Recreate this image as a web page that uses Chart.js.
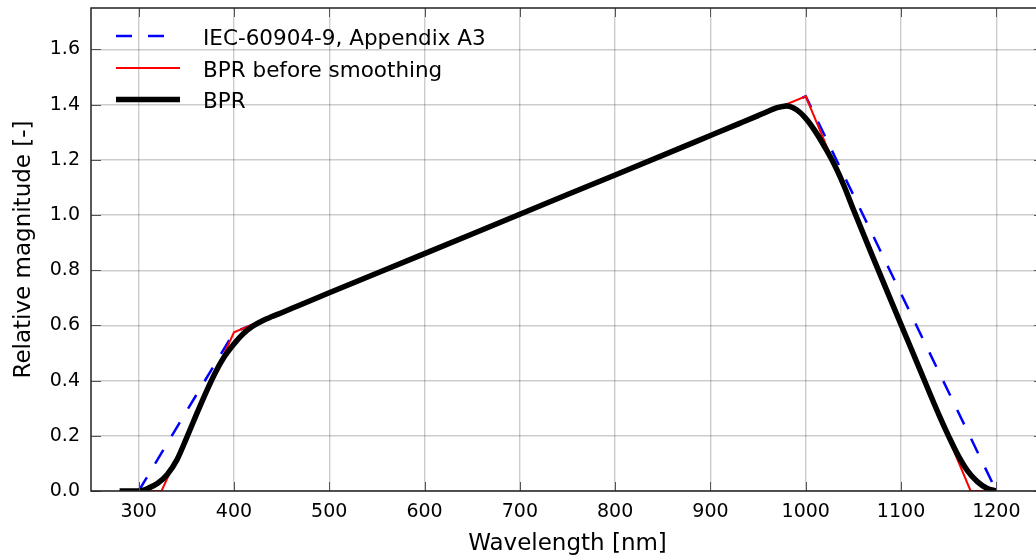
<!DOCTYPE html>
<html>
<head>
<meta charset="utf-8">
<script src="https://cdn.jsdelivr.net/npm/chart.js@4/dist/chart.umd.min.js"></script>
<style>
	html, body { margin: 0; padding: 0; overflow: hidden; background: #fff; }
	#wrap { width: 1050px; height: 560px; }
</style>
</head>
<body>
<div id="wrap"><canvas id="bprChart"></canvas></div>
<script>
// IEC-60904-9 기준선
const iecWl  = [300, 400, 1000, 1200];
const iecVal = [0, 0.575, 1.43, 0];

// 스무딩 전 BPR
const rawWl  = [280, 324, 400, 1000, 1173, 1200];
const rawVal = [0, 0, 0.575, 1.43, 0, 0];

// 스무딩 후 BPR
const bprWl  = [280, 300, 305, 310, 320, 330, 340, 350, 360, 370, 380, 390, 400, 410, 420, 430, 440, 450, 470,
	500, 600, 700, 800, 900, 930, 950, 960, 970, 980, 990, 1000, 1010, 1020, 1030, 1040, 1050, 1070,
	1100, 1120, 1130, 1140, 1150, 1160, 1170, 1180, 1190, 1200];
const bprVal = [0, 0, 0.003, 0.01, 0.028, 0.06, 0.112, 0.19, 0.272, 0.352, 0.426, 0.487, 0.533, 0.571, 0.598, 0.617, 0.632, 0.646, 0.675,
	0.718, 0.86, 1.003, 1.145, 1.288, 1.331, 1.36, 1.375, 1.389, 1.395, 1.382, 1.35, 1.303, 1.246, 1.183, 1.107, 1.02, 0.851,
	0.603, 0.438, 0.355, 0.274, 0.198, 0.128, 0.072, 0.034, 0.01, 0];

// 축 눈금
const xTicks = [300, 400, 500, 600, 700, 800, 900, 1000, 1100, 1200];
const yTicks = [0, 0.2, 0.4, 0.6, 0.8, 1.0, 1.2, 1.4, 1.6];

const FONT = "'DejaVu Sans', sans-serif";

function toPoints(xs, ys) {
	return xs.map((x, i) => ({x: x, y: ys[i]}));
}

// 프레임 + 안쪽 눈금 + 범례
const framePlugin = {
	id: 'frameAndLegend',
	afterDatasetsDraw(chart) {
		const {ctx, chartArea: {left, right, top, bottom}, scales: {x, y}} = chart;
		ctx.save();
		// 안쪽 눈금
		ctx.strokeStyle = '#555';
		ctx.lineWidth = 1;
		ctx.beginPath();
		xTicks.forEach(v => {
			const px = Math.round(x.getPixelForValue(v)) + 0.5;
			ctx.moveTo(px, top); ctx.lineTo(px, top + 9);
			ctx.moveTo(px, bottom); ctx.lineTo(px, bottom - 9);
		});
		yTicks.forEach(v => {
			const py = Math.round(y.getPixelForValue(v)) + 0.5;
			ctx.moveTo(left, py); ctx.lineTo(left + 10, py);
			ctx.moveTo(right, py); ctx.lineTo(right - 10, py);
		});
		ctx.stroke();
		// 테두리
		ctx.strokeStyle = '#222';
		ctx.lineWidth = 1.5;
		ctx.strokeRect(left, top, right - left, bottom - top);
		ctx.restore();
	},
	afterDraw(chart) {
		const {ctx} = chart;
		const rows = [36, 68, 99.5];
		ctx.save();
		chart.data.datasets.forEach((ds, i) => {
			const yy = rows[i];
			ctx.beginPath();
			ctx.strokeStyle = ds.borderColor;
			ctx.lineWidth = ds.borderWidth;
			ctx.setLineDash(ds.borderDash || []);
			ctx.moveTo(116, yy);
			ctx.lineTo(180, yy);
			ctx.stroke();
			ctx.setLineDash([]);
			ctx.fillStyle = '#000';
			ctx.font = '21.5px ' + FONT;
			ctx.textAlign = 'left';
			ctx.textBaseline = 'alphabetic';
			ctx.fillText(ds.label, 203, yy + 8.5);
		});
		ctx.restore();
	}
};

const ctx = document.getElementById('bprChart').getContext('2d');
const bprChart = new Chart(ctx, {
	type: 'line',
	data: {
		datasets: [
			{
				label: 'IEC-60904-9, Appendix A3',
				data: toPoints(iecWl, iecVal),
				borderColor: '#0000ff',
				borderWidth: 2.5,
				borderDash: [16, 16],
				pointRadius: 0,
				tension: 0,
				clip: 0,
				order: 3
			},
			{
				label: 'BPR before smoothing',
				data: toPoints(rawWl, rawVal),
				borderColor: '#ff0000',
				borderWidth: 2,
				pointRadius: 0,
				tension: 0,
				clip: 0,
				order: 2
			},
			{
				label: 'BPR',
				data: toPoints(bprWl, bprVal),
				borderColor: '#000000',
				borderWidth: 5.5,
				pointRadius: 0,
				cubicInterpolationMode: 'monotone',
				clip: 0,
				order: 1
			}
		]
	},
	options: {
		responsive: true,
		maintainAspectRatio: false,
		animation: false,
		layout: {
			padding: {left: 0, right: 6, top: 8, bottom: 0}
		},
		plugins: {
			legend: { display: false },
			tooltip: { enabled: false }
		},
		scales: {
			x: {
				type: 'linear',
				min: 250,
				max: 1250,
				afterBuildTicks(scale) {
					scale.ticks = xTicks.map(v => ({value: v}));
				},
				afterFit(scale) {
					scale.height = 69;
					scale.paddingLeft = 0;
					scale.paddingRight = 0;
				},
				grid: {
					color: 'rgba(0,0,0,0.2)',
					lineWidth: 1.4,
					drawTicks: false
				},
				border: { display: false },
				ticks: {
					autoSkip: false,
					maxRotation: 0,
					padding: 10,
					color: '#000',
					font: {family: FONT, size: 19},
					callback: v => String(v)
				},
				title: {
					display: true,
					text: 'Wavelength [nm]',
					color: '#000',
					font: {family: FONT, size: 23},
					padding: {top: 0, bottom: 2}
				}
			},
			y: {
				min: 0,
				max: 1.75,
				afterBuildTicks(scale) {
					scale.ticks = yTicks.map(v => ({value: v}));
				},
				afterFit(scale) {
					scale.width = 91;
					scale.paddingTop = 0;
					scale.paddingBottom = 0;
				},
				grid: {
					color: 'rgba(0,0,0,0.2)',
					lineWidth: 1.4,
					drawTicks: false
				},
				border: { display: false },
				ticks: {
					autoSkip: false,
					padding: 11,
					color: '#000',
					font: {family: FONT, size: 19},
					callback: v => v.toFixed(1)
				},
				title: {
					display: true,
					text: 'Relative magnitude [-]',
					color: '#000',
					font: {family: FONT, size: 23},
					padding: {top: 10, bottom: 0}
				}
			}
		}
	},
	plugins: [framePlugin]
});
</script>
</body>
</html>
